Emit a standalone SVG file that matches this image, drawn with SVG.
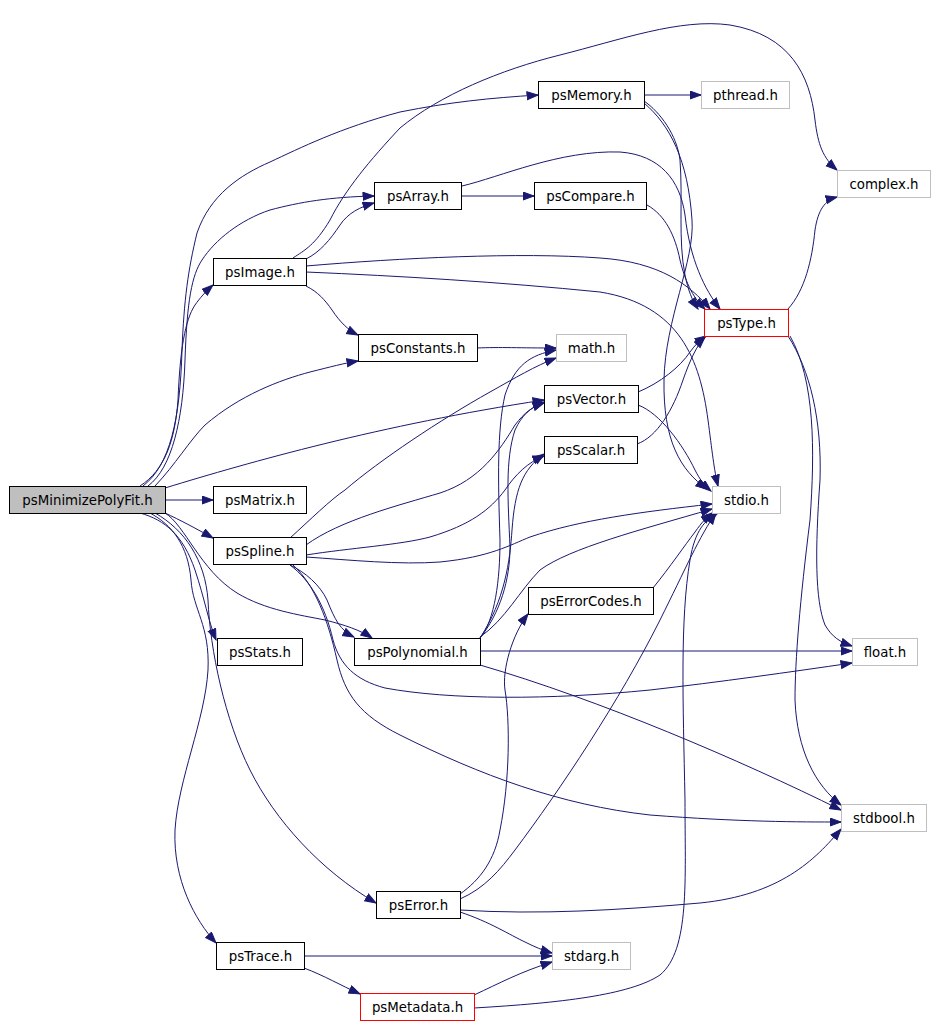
<svg xmlns="http://www.w3.org/2000/svg" width="938" height="1027" viewBox="0 0 938 1027">
<style>
.n rect{fill:#fff;stroke:#000;stroke-width:1}
.g rect{fill:#fff;stroke:#bfbfbf;stroke-width:1}
.r rect{fill:#fff;stroke:#ff0000;stroke-width:1}
#pmf rect{fill:#bfbfbf;stroke:#000}
text{font-family:"DejaVu Sans","Liberation Sans",sans-serif;font-size:13.33px;fill:#000;text-anchor:middle}
#edges path{fill:none;stroke:#191970;stroke-width:1;marker-end:url(#a)}
</style>
<defs>
<marker id="a" markerWidth="13" markerHeight="10" refX="11.5" refY="4.5" orient="auto" markerUnits="userSpaceOnUse"><path d="M0.5,0.5 L11.5,4.5 L0.5,8.5 z" fill="#191970" stroke="#191970" stroke-width="1"/></marker>
</defs>
<rect width="938" height="1027" fill="#fff"/>
<g id="edges">
<path d="M165,500 L213,500"/>
<path d="M165,513 C180,520 195,528 213,538"/>
<path d="M140,513 C165,520 183,535 195,570 C205,600 208,620 216,640"/>
<path d="M150,513 C172,525 188,545 191,580 C193,610 210,625 208,670 C205,720 178,780 175,830 C173,880 195,920 216,943"/>
<path d="M155,513 C185,530 205,560 208,600 C210,650 225,720 250,770 C275,820 320,870 376,903"/>
<path d="M165,513 C185,525 200,570 237,593 C265,610 300,615 325,620 C345,625 360,630 372,638"/>
<path d="M140,486 C165,470 175,440 178,400 C180,350 185,320 195,305 C200,298 205,292 213,285"/>
<path d="M143,486 C170,465 180,420 182,350 C184,300 188,270 197,233 C210,195 240,175 270,162 C300,148 340,128 400,112 C450,102 490,98 538,95"/>
<path d="M148,486 C172,468 183,420 185,360 C187,300 192,275 202,260 C215,240 240,220 270,210 C300,202 330,197 374,196"/>
<path d="M155,486 C175,465 190,440 205,425 C240,395 280,380 310,372 C330,367 345,363 358,361"/>
<path d="M165,488 C250,462 380,425 544,400"/>
<path d="M293,258 C305,250 315,245 330,220 C345,190 370,160 400,128 C440,95 500,70 560,55 C620,40 680,18 730,25 C790,35 810,75 815,120 C818,145 823,158 837,170"/>
<path d="M306,259 C320,252 330,240 340,225 C348,213 360,207 374,203"/>
<path d="M306,286 C318,292 325,300 332,310 C340,322 348,330 358,335"/>
<path d="M306,266 C400,258 520,252 600,258 C660,262 690,285 710,309"/>
<path d="M306,272 C400,276 500,282 600,292 C680,305 700,360 708,420 C712,450 714,470 718,486"/>
<path d="M644,95 L701,95"/>
<path d="M644,101 C660,112 677,135 680,160 C683,200 678,240 685,275 C688,290 692,300 698,309"/>
<path d="M644,103 C670,125 688,160 692,220 C695,260 665,320 664,380 C663,440 680,470 707,489"/>
<path d="M461,196 L534,196"/>
<path d="M462,186 C500,177 560,150 620,152 C660,155 680,180 685,215 C690,260 705,290 720,309"/>
<path d="M647,205 C665,215 675,235 680,260 C686,285 695,300 705,309"/>
<path d="M477,348 C500,347 520,348 556,348"/>
<path d="M638,392 C660,383 680,367 690,352 C695,345 700,340 706,336"/>
<path d="M638,405 C660,413 683,445 695,470 C700,480 705,486 711,491"/>
<path d="M637,444 C657,437 673,410 683,380 C690,360 697,345 705,337"/>
<path d="M480,638 C495,620 500,580 500,540 C498,480 497,430 505,395 C515,365 530,355 556,350"/>
<path d="M480,638 C500,613 510,580 510,547 C508,500 505,460 515,430 C522,415 530,408 544,402"/>
<path d="M480,638 C505,600 510,560 512,530 C515,490 522,470 544,454"/>
<path d="M480,637 C505,620 520,590 540,570 C570,548 640,530 712,509"/>
<path d="M480,651 L852,651"/>
<path d="M480,665 C600,700 740,760 841,810"/>
<path d="M290,538 C310,520 330,500 345,490 C380,460 440,420 490,392 C515,378 535,366 556,358"/>
<path d="M306,545 C340,520 400,505 440,493 C480,480 500,450 515,425 C525,412 532,407 544,403"/>
<path d="M306,555 C350,548 400,545 430,537 C470,525 490,510 505,490 C515,475 528,462 544,456"/>
<path d="M306,557 C350,560 400,565 440,562 C490,557 510,545 530,537 C580,520 640,512 712,504"/>
<path d="M290,565 C305,572 320,585 327,600 C335,620 340,630 354,637"/>
<path d="M290,565 C310,580 325,605 333,640 C340,665 355,680 385,688 C450,700 550,700 650,690 C720,682 790,672 852,663"/>
<path d="M293,565 C315,585 328,620 337,660 C345,695 360,715 400,735 C480,775 560,805 650,815 C740,822 800,822 841,822"/>
<path d="M653,588 C670,567 685,545 695,532 C702,522 706,518 712,513"/>
<path d="M460,894 C480,880 495,860 500,830 C510,780 510,720 505,690 C502,670 512,635 528,614"/>
<path d="M460,899 C485,888 500,870 515,850 C560,790 620,700 660,620 C685,570 700,535 716,513"/>
<path d="M460,910 C540,915 620,910 700,903 C780,895 815,860 841,829"/>
<path d="M460,912 C490,922 510,935 525,942 C535,947 542,950 552,953"/>
<path d="M304,956 L552,956"/>
<path d="M304,968 C325,976 340,985 360,994"/>
<path d="M474,995 C500,983 520,972 552,962"/>
<path d="M474,1008 C560,1003 630,995 660,975 C690,950 685,880 685,800 C683,700 680,620 690,560 C695,530 705,520 718,513"/>
<path d="M788,309 C805,290 812,260 815,230 C818,210 825,200 837,197"/>
<path d="M788,336 C810,370 822,420 820,480 C815,550 815,600 825,625 C832,637 840,642 852,646"/>
<path d="M790,336 C815,380 815,450 810,520 C800,600 795,660 795,700 C797,750 815,785 841,805"/>
</g>
<g id="pmf" class="n"><rect x="9.5" y="486.5" width="156" height="27"/><text x="87.5" y="504.5">psMinimizePolyFit.h</text></g>
<g id="psMatrix" class="n"><rect x="213.5" y="486.5" width="93" height="27"/><text x="260" y="504.5">psMatrix.h</text></g>
<g id="psSpline" class="n"><rect x="213.5" y="537.5" width="93" height="27"/><text x="260" y="555.5">psSpline.h</text></g>
<g id="psStats" class="n"><rect x="217.5" y="638.5" width="85" height="27"/><text x="260" y="656.5">psStats.h</text></g>
<g id="psImage" class="n"><rect x="213.5" y="258.5" width="93" height="27"/><text x="260" y="276.5">psImage.h</text></g>
<g id="psMemory" class="n"><rect x="538.5" y="81.5" width="106" height="27"/><text x="591.5" y="99.5">psMemory.h</text></g>
<g id="pthread" class="g"><rect x="701.5" y="81.5" width="88" height="27"/><text x="745.5" y="99.5">pthread.h</text></g>
<g id="psArray" class="n"><rect x="374.5" y="182.5" width="87" height="27"/><text x="418" y="200.5">psArray.h</text></g>
<g id="psCompare" class="n"><rect x="534.5" y="182.5" width="112" height="27"/><text x="590.5" y="200.5">psCompare.h</text></g>
<g id="complex" class="g"><rect x="837.5" y="170.5" width="93" height="27"/><text x="884" y="188.5">complex.h</text></g>
<g id="psType" class="r"><rect x="704.5" y="309.5" width="84" height="27"/><text x="746.5" y="327.5">psType.h</text></g>
<g id="psConstants" class="n"><rect x="358.5" y="334.5" width="119" height="27"/><text x="418" y="352.5">psConstants.h</text></g>
<g id="math" class="g"><rect x="556.5" y="334.5" width="70" height="27"/><text x="591.5" y="352.5">math.h</text></g>
<g id="psVector" class="n"><rect x="544.5" y="385.5" width="94" height="27"/><text x="591.5" y="403.5">psVector.h</text></g>
<g id="psScalar" class="n"><rect x="544.5" y="436.5" width="93" height="27"/><text x="591" y="454.5">psScalar.h</text></g>
<g id="stdio" class="g"><rect x="712.5" y="486.5" width="68" height="27"/><text x="746.5" y="504.5">stdio.h</text></g>
<g id="psErrorCodes" class="n"><rect x="528.5" y="587.5" width="125" height="27"/><text x="591" y="605.5">psErrorCodes.h</text></g>
<g id="psPolynomial" class="n"><rect x="354.5" y="638.5" width="126" height="27"/><text x="417.5" y="656.5">psPolynomial.h</text></g>
<g id="float" class="g"><rect x="852.5" y="638.5" width="65" height="27"/><text x="885" y="656.5">float.h</text></g>
<g id="stdbool" class="g"><rect x="841.5" y="804.5" width="85" height="27"/><text x="884" y="822.5">stdbool.h</text></g>
<g id="psError" class="n"><rect x="376.5" y="891.5" width="84" height="27"/><text x="418.5" y="909.5">psError.h</text></g>
<g id="stdarg" class="g"><rect x="552.5" y="942.5" width="78" height="27"/><text x="591.5" y="960.5">stdarg.h</text></g>
<g id="psTrace" class="n"><rect x="216.5" y="942.5" width="88" height="27"/><text x="260.5" y="960.5">psTrace.h</text></g>
<g id="psMetadata" class="r"><rect x="360.5" y="993.5" width="114" height="27"/><text x="417.5" y="1011.5">psMetadata.h</text></g>
</svg>
